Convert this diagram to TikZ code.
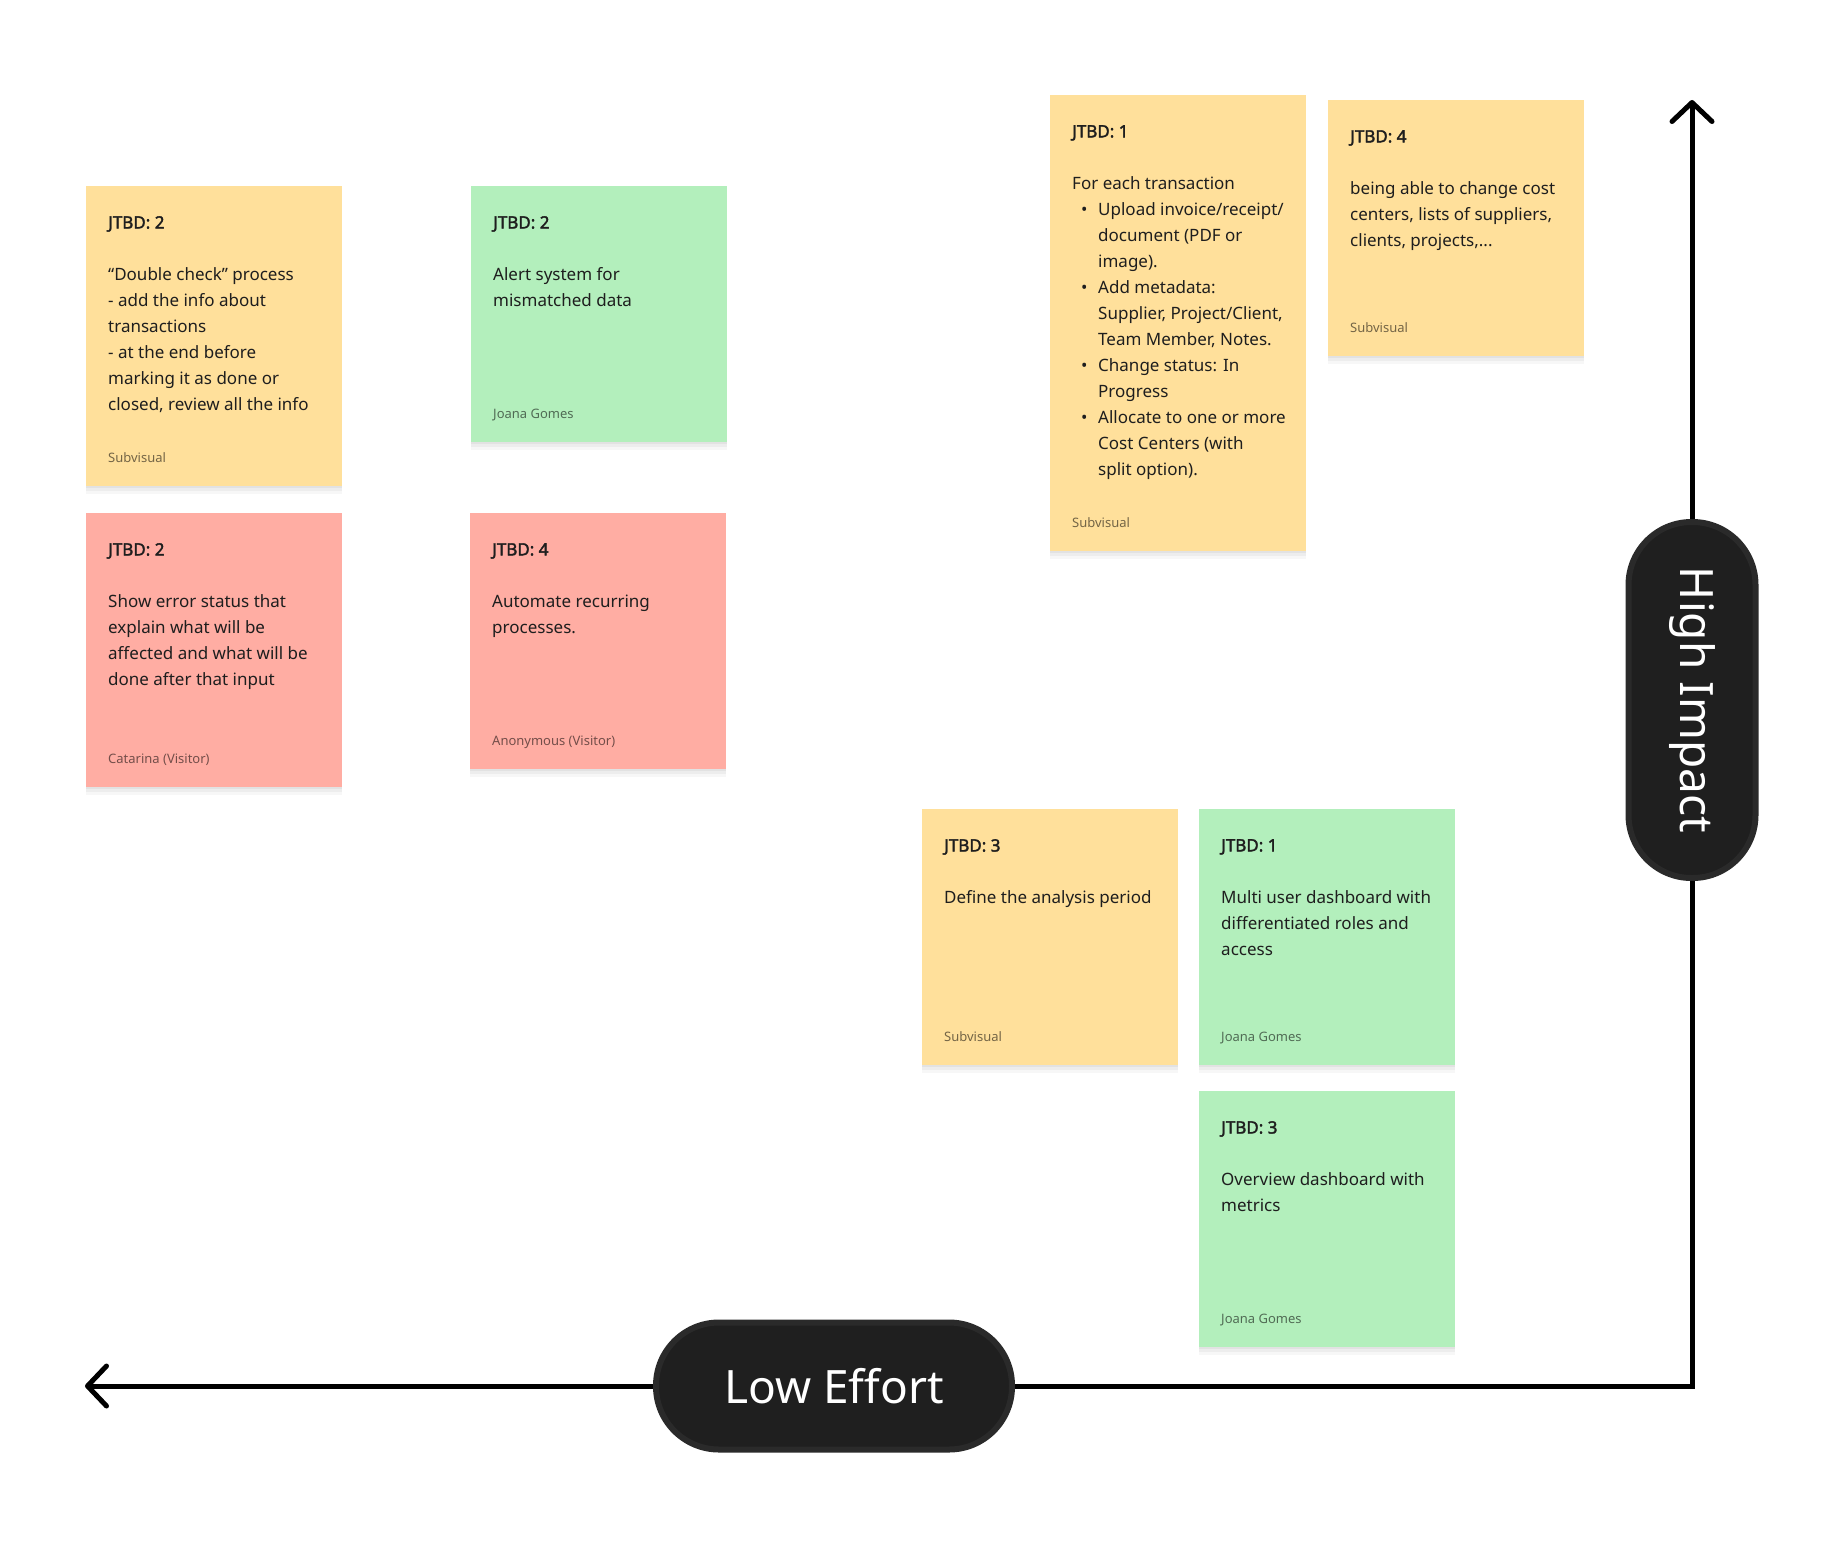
\documentclass[tikz,border=0pt]{standalone}
\usepackage{fontspec}
\setmainfont{Noto Sans}[AutoFakeBold=2.2]
\usetikzlibrary{arrows.meta,positioning,calc,shadows}
\definecolor{cYel}{HTML}{FFE09B}
\definecolor{cGrn}{HTML}{B3EFBC}
\definecolor{cRed}{HTML}{FFADA3}
\definecolor{cInk}{HTML}{1E1E1E}
\definecolor{cPill}{HTML}{1F1F1F}
\definecolor{cPillRim}{HTML}{2A2A2A}
\tikzset{
  sticky/.style={anchor=north west, minimum width=256pt, minimum height=256pt,
    inner sep=0pt,
    general shadow={fill=black, opacity=.05, shadow yshift=-2pt},
    general shadow={fill=black, opacity=.04, shadow yshift=-5pt},
    general shadow={fill=black, opacity=.03, shadow yshift=-8pt}},
  ynote/.style={sticky, fill=cYel},
  gnote/.style={sticky, fill=cGrn},
  rnote/.style={sticky, fill=cRed},
  body/.style={anchor=north west, inner sep=0pt, align=left, text=cInk,
    font=\fontsize{17}{26}\selectfont},
  author/.style={anchor=base west, inner sep=0pt, text=black, text opacity=.55,
    font=\fontsize{13}{15}\selectfont},
  pill/.style={rounded corners=63pt, fill=cPill, draw=cPillRim, line width=6pt,
    text=white, minimum width=356pt, minimum height=127pt,
    font=\fontsize{46}{50}\selectfont},
  axis/.style={line width=5pt, draw=black},
  tip/.style={-{Straight Barb[length=19pt, width=40pt, round]}},
}

\begin{document}
\begin{tikzpicture}[x=1pt, y=-1pt]
  \useasboundingbox (0,0) rectangle (1842,1542);
  % --- stickies, top left corners ---
  \node[ynote, minimum height=300pt] (dbl)   at (86,186)   {};
  \node[gnote]                       (alert) at (471,186)  {};
  \node[rnote, minimum height=274pt] (err)   at (86,513)   {};
  \node[rnote]                       (auto)  at (470,513)  {};
  \node[ynote, minimum height=456pt] (upl)   at (1050,95)  {};
  \node[ynote]                       (cost)  at (1328,100) {};
  \node[ynote]                       (per)   at (922,809)  {};
  \node[gnote]                       (multi) at (1199,809) {};
  \node[gnote]                       (over)  at (1199,1091) {};
  % --- texts ---
  \node[body] (dbl-t) at ($(dbl.north west)+(22,30)$)
    {\textbf{JTBD: 2}\\[26pt]“Double check” process\\- add the info about\\transactions\\- at the end before\\marking it as done or\\closed, review all the info};
  \node[author] (dbl-a) at ($(dbl.south west)+(22,-24)$) {Subvisual};
  \node[body] (alert-t) at ($(alert.north west)+(22,30)$)
    {\textbf{JTBD: 2}\\[26pt]Alert system for\\mismatched data};
  \node[author] (alert-a) at ($(alert.south west)+(22,-24)$) {Joana Gomes};
  \node[body] (err-t) at ($(err.north west)+(22,30)$)
    {\textbf{JTBD: 2}\\[26pt]Show error status that\\explain what will be\\affected and what will be\\done after that input};
  \node[author] (err-a) at ($(err.south west)+(22,-24)$) {Catarina (Visitor)};
  \node[body] (auto-t) at ($(auto.north west)+(22,30)$)
    {\textbf{JTBD: 4}\\[26pt]Automate recurring\\processes.};
  \node[author] (auto-a) at ($(auto.south west)+(22,-24)$) {Anonymous (Visitor)};
  \node[body] (upl-t) at ($(upl.north west)+(22,30)$)
    {\textbf{JTBD: 1}\\[26pt]For each transaction\\
     \hspace*{9pt}\makebox[17pt][l]{•}Upload invoice/receipt/\\
     \hspace*{26pt}document (PDF or\\
     \hspace*{26pt}image).\\
     \hspace*{9pt}\makebox[17pt][l]{•}Add metadata:\\
     \hspace*{26pt}Supplier, Project/Client,\\
     \hspace*{26pt}Team Member, Notes.\\
     \hspace*{9pt}\makebox[17pt][l]{•}Change status: In\\
     \hspace*{26pt}Progress\\
     \hspace*{9pt}\makebox[17pt][l]{•}Allocate to one or more\\
     \hspace*{26pt}Cost Centers (with\\
     \hspace*{26pt}split option).};
  \node[author] (upl-a) at ($(upl.south west)+(22,-24)$) {Subvisual};
  \node[body] (cost-t) at ($(cost.north west)+(22,30)$)
    {\textbf{JTBD: 4}\\[26pt]being able to change cost\\centers, lists of suppliers,\\clients, projects,...};
  \node[author] (cost-a) at ($(cost.south west)+(22,-24)$) {Subvisual};
  \node[body] (per-t) at ($(per.north west)+(22,30)$)
    {\textbf{JTBD: 3}\\[26pt]Define the analysis period};
  \node[author] (per-a) at ($(per.south west)+(22,-24)$) {Subvisual};
  \node[body] (multi-t) at ($(multi.north west)+(22,30)$)
    {\textbf{JTBD: 1}\\[26pt]Multi user dashboard with\\differentiated roles and\\access};
  \node[author] (multi-a) at ($(multi.south west)+(22,-24)$) {Joana Gomes};
  \node[body] (over-t) at ($(over.north west)+(22,30)$)
    {\textbf{JTBD: 3}\\[26pt]Overview dashboard with\\metrics};
  \node[author] (over-a) at ($(over.south west)+(22,-24)$) {Joana Gomes};
  % --- axes ---
  \node[pill]             (effort) at (834,1386) {Low Effort};
  \node[pill, rotate=-90] (impact) at (1692,700) {High Impact};
  \coordinate (xtip) at (85,1386);
  \coordinate (ytip) at (1692,100);
  \draw[axis] (effort) -| (impact);
  \draw[axis, tip] (effort) -- (xtip);
  \draw[axis, tip] (impact) -- (ytip);
\end{tikzpicture}
\end{document}
